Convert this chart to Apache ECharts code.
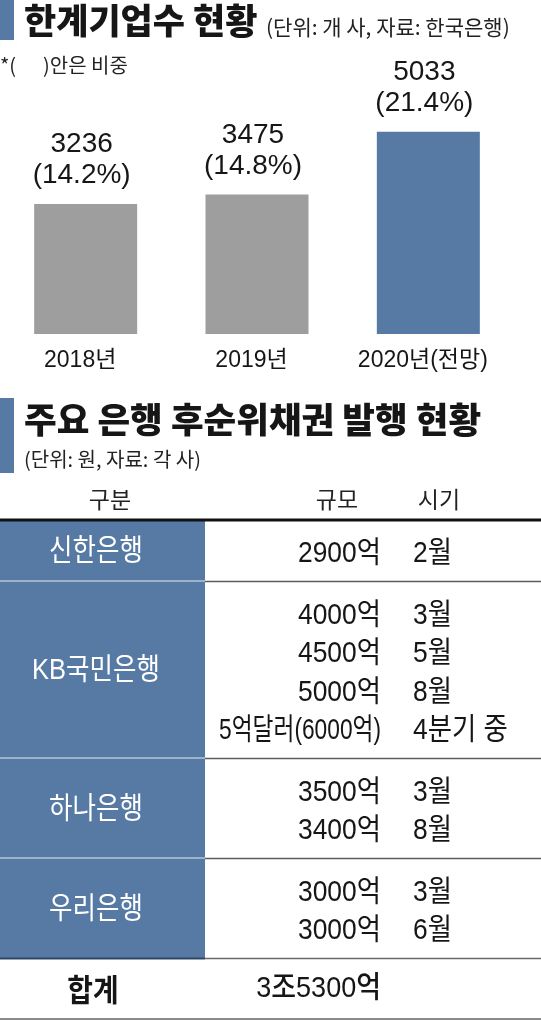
<!DOCTYPE html>
<html>
<head>
<meta charset="utf-8">
<script src="https://cdn.jsdelivr.net/npm/echarts@6.0.0/dist/echarts.min.js"></script>
<style>
  html, body { margin: 0; padding: 0; background: #fff; }
  #main { width: 541px; height: 1024px; }
</style>
</head>
<body>
<div id="main"></div>
<script>
// 한계기업수 (개 사)
const years = ['2018년', '2019년', '2020년(전망)'];
const counts = [3236, 3475, 5033];
const shares = [14.2, 14.8, 21.4];

// 주요 은행 후순위채권 발행
const banks = ['신한은행', 'KB국민은행', '하나은행', '우리은행'];
const amounts = [
  ['2900억'],
  ['4000억', '4500억', '5000억', '5억달러(6000억)'],
  ['3500억', '3400억'],
  ['3000억', '3000억']
];
const months = [
  ['2월'],
  ['3월', '5월', '8월', '4분기 중'],
  ['3월', '8월'],
  ['3월', '6월']
];
const totalLabel = '합계';
const totalAmount = '3조5300억';

const BLUE = '#567aa3';
const GRAY = '#9e9e9e';
const INK = '#161616';
const KR = "'Noto Sans CJK KR', sans-serif";
const NUM = "'Liberation Sans', 'Noto Sans CJK KR', sans-serif";
const PAD = 0.6; // 블록 위아래 여백 (줄 단위)

// 표 블록: 은행마다 줄 수 + 여백, 마지막은 합계 행
const blocks = [];
let acc = 0;
banks.forEach((b, i) => {
  const n = amounts[i].length;
  blocks.push([acc, acc + n + PAD, i]);
  acc += n + PAD;
});
blocks.push([acc, acc + 1 + PAD, -1]);
acc += 1 + PAD;

const measure = document.createElement('canvas').getContext('2d');
function fitScale(text, size, weight, family, base, maxW) {
  measure.font = weight + ' ' + size + 'px ' + family;
  const w = measure.measureText(text).width;
  return Math.min(base, maxW / w);
}

function txt(x, y, text, o) {
  const scale = o.maxW ? fitScale(text, o.size, o.weight || 'normal', o.family, o.scale || 1, o.maxW) : (o.scale || 1);
  return {
    type: 'text', x: x, y: y, scaleX: scale,
    style: {
      text: text, fill: o.color || INK, fontSize: o.size, fontFamily: o.family,
      fontWeight: o.weight || 'normal', align: o.align, verticalAlign: 'middle'
    }
  };
}

function renderRow(params, api) {
  const start = api.value(0), end = api.value(1), idx = api.value(2);
  const top = api.coord([0, start])[1];
  const bottom = api.coord([0, end])[1];
  const x0 = api.coord([0, start])[0];
  const x1 = api.coord([541, start])[0];
  const cellR = api.coord([205, start])[0];
  const valR = api.coord([381, start])[0];
  const monL = api.coord([413, start])[0];
  const nameC = api.coord([96, start])[0];
  const lineY = k => api.coord([0, start + PAD / 2 + 0.58 + k])[1];
  const midY = (top + bottom) / 2;
  const ch = [];

  if (idx >= 0) {
    ch.push({ type: 'rect', shape: { x: x0, y: top, width: cellR - x0, height: bottom - top }, style: { fill: BLUE } });
    ch.push(txt(nameC, midY + 1, banks[idx], { size: 30, family: NUM, color: '#fff', align: 'center', scale: 0.85, maxW: 140 }));
    amounts[idx].forEach((a, k) => {
      ch.push(txt(valR, lineY(k), a, { size: 30, family: NUM, align: 'right', scale: 0.88, maxW: 162 }));
      ch.push(txt(monL, lineY(k), months[idx][k], { size: 30, family: NUM, align: 'left', scale: 0.88 }));
    });
    if (idx === 0) {
      ch.push({ type: 'line', shape: { x1: x0, y1: top, x2: x1, y2: top }, style: { stroke: '#111', lineWidth: 3 } });
    }
    const last = idx === banks.length - 1;
    ch.push({ type: 'line', shape: { x1: x0, y1: bottom, x2: cellR, y2: bottom },
      style: { stroke: last ? '#2f4866' : '#e4ebf3', lineWidth: 2 } });
    ch.push({ type: 'line', shape: { x1: cellR, y1: bottom, x2: x1, y2: bottom },
      style: { stroke: last ? '#6a6a6a' : '#5c5c5c', lineWidth: 1.5 } });
  } else {
    ch.push(txt(api.coord([93, start])[0], midY, totalLabel, { size: 31, family: KR, weight: 'bold', align: 'center', scale: 0.9 }));
    ch.push(txt(valR, midY, totalAmount, { size: 30, family: NUM, weight: 500, align: 'right', scale: 0.9 }));
    ch.push({ type: 'line', shape: { x1: x0, y1: bottom - 1, x2: x1, y2: bottom - 1 }, style: { stroke: '#8a8a8a', lineWidth: 2 } });
  }
  return { type: 'group', children: ch };
}

const chart = echarts.init(document.getElementById('main'), null, { renderer: 'canvas' });

const option = {
  backgroundColor: '#fff',
  animation: false,
  graphic: [
    { type: 'rect', shape: { x: 0, y: 0, width: 14, height: 40 }, style: { fill: BLUE } },
    { type: 'text', x: 24, y: 21, style: { text: '한계기업수 현황', fontSize: 35, fontWeight: 900, fontFamily: KR, fill: INK, verticalAlign: 'middle' } },
    { type: 'text', x: 266, y: 27, style: { text: '(단위: 개 사, 자료: 한국은행)', fontSize: 21, fontFamily: KR, fill: '#222', verticalAlign: 'middle' } },
    { type: 'text', x: 0, y: 65, style: { text: '*(      )안은 비중', fontSize: 20, fontFamily: KR, fill: '#222', verticalAlign: 'middle' } },
    { type: 'rect', shape: { x: 0, y: 398, width: 14, height: 75 }, style: { fill: BLUE } },
    { type: 'text', x: 24, y: 420, style: { text: '주요 은행 후순위채권 발행 현황', fontSize: 35.5, fontWeight: 900, fontFamily: KR, fill: INK, verticalAlign: 'middle' } },
    { type: 'text', x: 24, y: 459, style: { text: '(단위: 원, 자료: 각 사)', fontSize: 20, fontFamily: KR, fill: '#222', verticalAlign: 'middle' } },
    { type: 'text', x: 110, y: 499, style: { text: '구분', fontSize: 23, fontFamily: KR, fill: '#222', align: 'center', verticalAlign: 'middle' } },
    { type: 'text', x: 337, y: 499, style: { text: '규모', fontSize: 23, fontFamily: KR, fill: '#222', align: 'center', verticalAlign: 'middle' } },
    { type: 'text', x: 439, y: 499, style: { text: '시기', fontSize: 23, fontFamily: KR, fill: '#222', align: 'center', verticalAlign: 'middle' } }
  ],
  grid: [
    { left: 0, right: 27, top: 93, height: 241, outerBoundsMode: 'none', containLabel: false },
    { left: 0, right: 0, top: 520, bottom: 4, outerBoundsMode: 'none', containLabel: false }
  ],
  xAxis: [
    {
      type: 'category',
      gridIndex: 0,
      data: years,
      axisLine: { show: false },
      axisTick: { show: false },
      axisLabel: {
        interval: 0,
        margin: 15,
        fontSize: 23,
        fontFamily: NUM,
        color: INK,
        padding: [0, 11, 0, 0]
      }
    },
    { type: 'value', gridIndex: 1, min: 0, max: 541, show: false }
  ],
  yAxis: [
    { type: 'value', gridIndex: 0, min: 0, max: 6000, show: false },
    { type: 'value', gridIndex: 1, min: 0, max: acc, inverse: true, show: false }
  ],
  series: [
    {
      type: 'bar',
      xAxisIndex: 0,
      yAxisIndex: 0,
      barWidth: 103,
      data: counts,
      itemStyle: {
        color: p => p.dataIndex === counts.length - 1 ? BLUE : GRAY
      },
      label: {
        show: true,
        position: 'top',
        distance: 13,
        offset: [-4, 0],
        fontSize: 28,
        lineHeight: 31,
        fontFamily: NUM,
        color: INK,
        formatter: p => p.value + '\n(' + shares[p.dataIndex].toFixed(1) + '%)'
      }
    },
    {
      type: 'custom',
      xAxisIndex: 1,
      yAxisIndex: 1,
      clip: false,
      encode: { x: -1, y: [0, 1] },
      data: blocks,
      renderItem: renderRow
    }
  ]
};

chart.setOption(option);
</script>
</body>
</html>
